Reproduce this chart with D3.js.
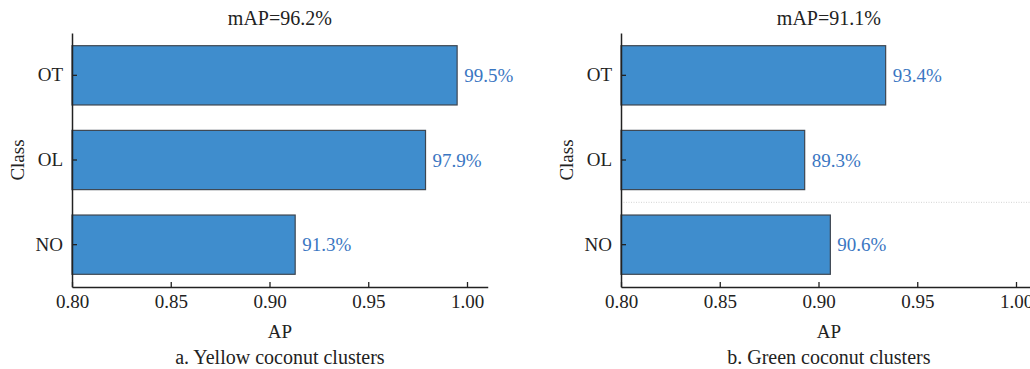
<!DOCTYPE html>
<html>
<head>
<meta charset="utf-8">
<script src="https://cdn.jsdelivr.net/npm/d3@7"></script>
<style>
  html, body { margin: 0; padding: 0; background: #fff; }
  svg { display: block; }
  text { font-family: "Liberation Serif", "Times New Roman", serif; }
</style>
</head>
<body>
<svg id="chart" width="1030" height="369"></svg>
<script>
// Per-class average precision for the two coconut cluster types
const classes = ["OT", "OL", "NO"];
const yellowAP = [0.995, 0.979, 0.913];
const greenAP = [0.934, 0.893, 0.906];
const yellowMAP = 0.962;
const greenMAP = 0.911;
const xTicks = [0.80, 0.85, 0.90, 0.95, 1.00];
const captions = ["a. Yellow coconut clusters", "b. Green coconut clusters"];

const svg = d3.select("#chart");

const panels = [
  { values: yellowAP, map: yellowMAP, caption: captions[0], left: 72, grid: false },
  { values: greenAP, map: greenMAP, caption: captions[1], left: 621, grid: true }
];

const plotTop = 33, plotBottom = 287;
const unit = 1975;           // pixels per 1.0 of AP
const xMin = 0.80, xMax = 1.0105;

panels.forEach(p => {
  const x = d3.scaleLinear().domain([xMin, xMax]).range([p.left, p.left + (xMax - xMin) * unit]);
  const y = d3.scaleBand().domain(classes).range([plotTop, plotBottom]).paddingInner(0.3).paddingOuter(0.15);
  const g = svg.append("g");
  const [x0, x1] = x.range();
  const cx = (x0 + x1) / 2;

  // dotted separator between OL and NO rows
  if (p.grid) {
    const yb = (y("OL") + y.bandwidth() + y("NO")) / 2;
    g.append("line")
      .attr("x1", x0).attr("x2", x1).attr("y1", yb).attr("y2", yb)
      .attr("stroke", "#c8c8c8").attr("stroke-width", 0.8).attr("stroke-dasharray", "1,1.5");
  }

  // bars
  g.selectAll("rect.bar").data(classes).join("rect")
    .attr("class", "bar")
    .attr("x", x(xMin))
    .attr("y", d => y(d))
    .attr("width", (d, i) => x(p.values[i]) - x(xMin))
    .attr("height", y.bandwidth())
    .attr("fill", "#3f8dcd")
    .attr("stroke", "#3d4650")
    .attr("stroke-width", 1.2);

  // value labels
  g.selectAll("text.val").data(classes).join("text")
    .attr("class", "val")
    .attr("x", (d, i) => x(p.values[i]) + 7)
    .attr("y", d => y(d) + y.bandwidth() / 2)
    .attr("dy", "0.35em")
    .attr("font-size", 19)
    .attr("fill", "#3a76c2")
    .text((d, i) => (p.values[i] * 100).toFixed(1) + "%");

  // axes with inward ticks
  const xAxis = d3.axisBottom(x).tickValues(xTicks).tickFormat(d3.format(".2f"))
    .tickSizeInner(-5).tickSizeOuter(0).tickPadding(12);
  const gx = g.append("g").attr("transform", `translate(0,${plotBottom})`).call(xAxis);
  gx.select(".domain").attr("stroke", "#222").attr("stroke-width", 1.5);
  gx.selectAll(".tick line").attr("stroke", "#222").attr("stroke-width", 1.3);
  gx.selectAll(".tick text").attr("font-size", 19).attr("fill", "#222")
    .attr("dy", "0.71em").attr("y", 8);

  const yAxis = d3.axisLeft(y).tickSizeInner(-5).tickSizeOuter(0).tickPadding(9);
  const gy = g.append("g").attr("transform", `translate(${x0},0)`).call(yAxis);
  gy.select(".domain").attr("stroke", "#222").attr("stroke-width", 1.5);
  gy.selectAll(".tick line").attr("stroke", "#222").attr("stroke-width", 1.3);
  gy.selectAll(".tick text").attr("font-size", 19).attr("fill", "#222").attr("x", -9);

  // title, axis labels, caption
  g.append("text").attr("x", cx).attr("y", 25).attr("text-anchor", "middle")
    .attr("font-size", 20).attr("fill", "#222")
    .text("mAP=" + (p.map * 100).toFixed(1) + "%");
  g.append("text").attr("x", cx).attr("y", 338).attr("text-anchor", "middle")
    .attr("font-size", 19).attr("fill", "#222").text("AP");
  g.append("text")
    .attr("transform", `translate(${x0 - 48},${(plotTop + plotBottom) / 2}) rotate(-90)`)
    .attr("text-anchor", "middle").attr("font-size", 19).attr("fill", "#222").text("Class");
  g.append("text").attr("x", cx).attr("y", 364).attr("text-anchor", "middle")
    .attr("font-size", 20).attr("fill", "#222").text(p.caption);
});
</script>
</body>
</html>
